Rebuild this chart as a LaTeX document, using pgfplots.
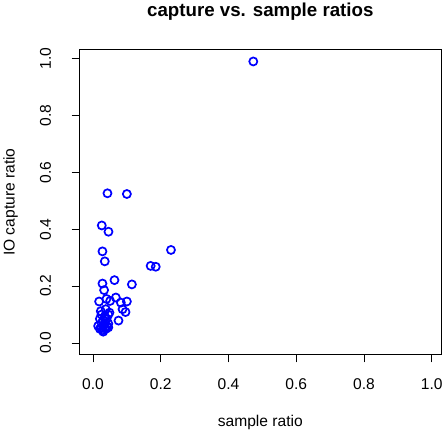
\documentclass[border=0pt]{standalone}
\usepackage{pgfplots}
\pgfplotsset{compat=1.18}
\usepackage{fontspec}
\setmainfont{Liberation Sans}
\definecolor{rblue}{RGB}{0,0,255}
\begin{document}
\begin{tikzpicture}
\begin{axis}[
  scale only axis, width=359.3pt, height=303pt,
  xmin=-0.0395, xmax=1.027, ymin=-0.04, ymax=1.03,
  xtick={0,0.2,0.4,0.6,0.8,1.0}, ytick={0,0.2,0.4,0.6,0.8,1.0},
  xticklabels={0.0,0.2,0.4,0.6,0.8,1.0}, yticklabels={0.0,0.2,0.4,0.6,0.8,1.0},
  tick align=outside, major tick length=8pt,
  xtick pos=bottom, ytick pos=left,
  tick style={black, line width=0.8pt},
  axis line style={black, line width=0.8pt},
  tick label style={font=\fontsize{15.5}{18}\selectfont},
  xticklabel style={anchor=center, yshift=-22pt},
  yticklabel style={rotate=90, anchor=center, yshift=26pt},
  xlabel={sample ratio}, ylabel={IO capture ratio},
  label style={font=\fontsize{15.5}{18}\selectfont},
  xlabel style={at={(axis description cs:0.5,-0.2244)}, anchor=center},
  ylabel style={at={(axis description cs:-0.1912,0.5)}, anchor=center},
  title={capture vs. sample ratios},
  title style={font=\fontsize{18.6}{22}\selectfont\bfseries, at={(axis description cs:0.5,1.104)}, anchor=center},
]
\addplot[only marks, color=rblue, mark=o, mark size=4pt, mark options={line width=1.7pt, draw=rblue}] coordinates {
(0.473,0.989)
(0.0425,0.526)
(0.0998,0.5235)
(0.0257,0.413)
(0.0455,0.391)
(0.0277,0.322)
(0.0346,0.287)
(0.230,0.327)
(0.170,0.271)
(0.185,0.268)
(0.0632,0.221)
(0.0277,0.209)
(0.1146,0.206)
(0.0326,0.186)
(0.0178,0.146)
(0.0395,0.155)
(0.0504,0.148)
(0.0672,0.160)
(0.082,0.142)
(0.0998,0.146)
(0.087,0.119)
(0.0958,0.109)
(0.0751,0.079)
(0.0484,0.107)
(0.0227,0.112)
(0.0375,0.119)
(0.025,0.100)
(0.035,0.095)
(0.045,0.100)
(0.020,0.085)
(0.030,0.080)
(0.040,0.085)
(0.025,0.070)
(0.035,0.070)
(0.045,0.068)
(0.015,0.060)
(0.030,0.060)
(0.042,0.058)
(0.020,0.050)
(0.028,0.045)
(0.038,0.050)
(0.045,0.055)
(0.030,0.040)
(0.025,0.055)
(0.035,0.055)
};
\end{axis}
\end{tikzpicture}
\end{document}
